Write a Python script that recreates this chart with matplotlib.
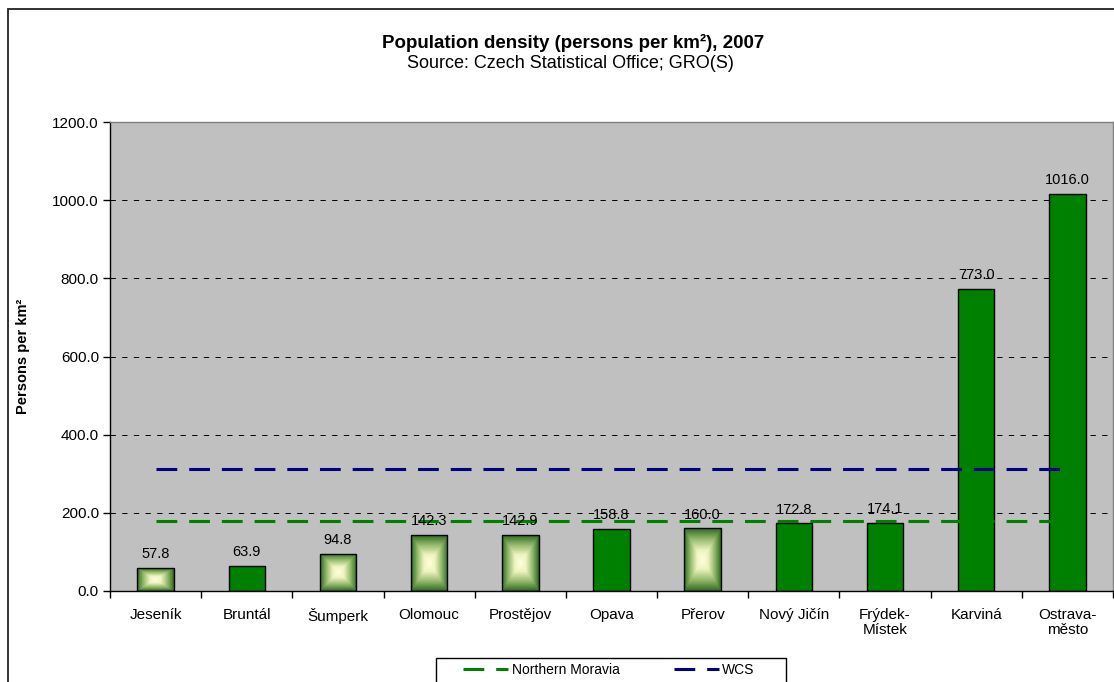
import numpy as np
import matplotlib
matplotlib.use("Agg")
import matplotlib.pyplot as plt
from matplotlib.colors import LinearSegmentedColormap
from matplotlib.patches import Rectangle
from matplotlib.ticker import FixedLocator, FuncFormatter

plt.rcParams['font.family'] = ['Liberation Sans', 'DejaVu Sans']

districts = ["Jeseník", "Bruntál", "Šumperk", "Olomouc", "Prostějov", "Opava",
             "Přerov", "Nový Jičín", "Frýdek-\nMístek", "Karviná", "Ostrava-\nměsto"]
density = [57.8, 63.9, 94.8, 142.3, 142.9, 158.8, 160.0, 172.8, 174.1, 773.0, 1016.0]
# districts drawn with the shaded (box gradient) fill
shaded = [True, False, True, True, True, False, True, False, False, False, False]
northern_moravia = 178.0
wcs = 313.0

W, H = 1114, 682
fig = plt.figure(figsize=(W / 100, H / 100), dpi=100)
fig.patch.set_facecolor("white")

# outer chart frame
fig.patches.append(Rectangle((8 / W, -0.2), 1.2, 1 - 9 / H + 0.2,
                             transform=fig.transFigure, fill=False,
                             edgecolor="#222222", linewidth=1.3))

ax = fig.add_axes([110 / W, 1 - 591 / H, (1113 - 110) / W, (591 - 122) / H])
ax.set_facecolor("#C0C0C0")

x = np.arange(len(districts))
bar_w = 0.4
bars = ax.bar(x, density, width=bar_w, color="#008000", edgecolor="black",
              linewidth=1.0, zorder=2)

# box gradient (light centre, dark green rim) for the shaded bars
grad_cmap = LinearSegmentedColormap.from_list(
    "boxgrad", [(0.0, "#FFFFDC"), (0.3, "#EEF3C0"), (0.65, "#94BA6C"), (1.0, "#2F6B1F")])
n = 201
u = np.linspace(-1, 1, n)
uu, vv = np.meshgrid(u, u)
tgrid = np.maximum(np.abs(uu), np.abs(vv))
for b, s in zip(bars, shaded):
    if not s:
        continue
    b.set_facecolor("none")
    x0, w, h = b.get_x(), b.get_width(), b.get_height()
    im = ax.imshow(tgrid, cmap=grad_cmap, extent=(x0, x0 + w, 0, h),
                   aspect="auto", origin="lower", zorder=1.9, interpolation="bilinear")
    im.set_clip_path(b)

for xi, v in zip(x, density):
    ax.annotate(f"{v:.1f}", (xi, v), xytext=(0, 5), textcoords="offset points",
                ha="center", va="bottom", fontsize=10.5, color="black", zorder=4)

dash = (6.8, 3.9)
line_nm, = ax.plot([x[0], x[-1]], [northern_moravia] * 2, color="#008000",
                   linewidth=2.2, dashes=dash, zorder=3, label="Northern Moravia")
line_wcs, = ax.plot([x[0], x[-1]], [wcs] * 2, color="#000080",
                    linewidth=2.2, dashes=dash, zorder=3, label="WCS")

ax.set_xlim(-0.5, len(districts) - 0.5)
ax.set_ylim(0, 1200)
yt = np.arange(0, 1201, 200)
ax.set_yticks(yt)
ax.yaxis.set_major_formatter(FuncFormatter(lambda v, p: f"{v:.1f}"))
ax.yaxis.grid(True, color="black", linestyle=(0, (5.5, 6.5)), linewidth=0.7, zorder=0)
ax.set_axisbelow(True)

ax.set_xticks(x)
ax.set_xticklabels(districts, fontsize=11, linespacing=1.1)
ax.xaxis.set_minor_locator(FixedLocator(np.arange(-0.5, len(districts), 1.0)))
ax.tick_params(axis="x", which="major", length=0, pad=12)
ax.tick_params(axis="x", which="minor", length=5, width=1, direction="out")
ax.tick_params(axis="y", length=5, width=1, direction="out", labelsize=11, pad=3)

for side in ("left", "bottom"):
    ax.spines[side].set_color("black")
    ax.spines[side].set_linewidth(1.0)
for side in ("top", "right"):
    ax.spines[side].set_color("#808080")
    ax.spines[side].set_linewidth(1.0)

fig.text(23 / W, 1 - 356 / H, "Persons per km²", rotation=90, ha="center",
         va="center", fontsize=10.5, fontweight="bold")

fig.text(573 / W, 1 - 43 / H, "Population density (persons per km²), 2007",
         ha="center", va="center", fontsize=13.5, fontweight="bold")
fig.text(570 / W, 1 - 64 / H, "Source: Czech Statistical Office; GRO(S)",
         ha="center", va="center", fontsize=13)

# legend: frame box and entries
fig.patches.append(Rectangle((436 / W, -0.1), (786 - 436) / W, 0.1 + 1 - 658 / H,
                             transform=fig.transFigure, fill=False,
                             edgecolor="black", linewidth=1.0))
leg = fig.legend(handles=[line_nm, line_wcs], loc="upper left",
                 bbox_to_anchor=(463 / W, 1 - 663 / H), ncol=2, fontsize=10,
                 frameon=False, handlelength=3.25, columnspacing=3.9,
                 borderpad=0, borderaxespad=0, handletextpad=0.25)

fig.savefig("out.png", dpi=100, facecolor="white")
